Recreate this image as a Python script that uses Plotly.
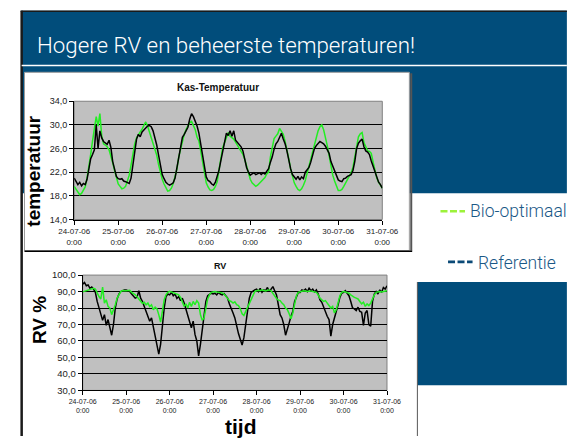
import plotly.graph_objects as go

# ---------------- data: hourly readings 24-07-2006 0:00 .. 31-07-2006 0:00 ----------------
hours = list(range(169))
day_ticks = [0, 24, 48, 72, 96, 120, 144, 168]
day_labels = ["24-07-06", "25-07-06", "26-07-06", "27-07-06",
              "28-07-06", "29-07-06", "30-07-06", "31-07-06"]
time_label = "0:00"

temp_ticks = [14, 18, 22, 26, 30, 34]
temp_tick_labels = ["14,0", "18,0", "22,0", "26,0", "30,0", "34,0"]
rv_ticks = [30, 40, 50, 60, 70, 80, 90, 100]
rv_tick_labels = ["30,0", "40,0", "50,0", "60,0", "70,0", "80,0", "90,0", "100,0"]

# greenhouse temperature (deg C), one row per day
temp_bio = [
    19.6, 19.2, 18.6, 18.2, 18.4, 18.9, 19.5, 21.0, 22.8, 25.0, 27.3, 29.0, 31.4, 29.8, 31.9, 28.2, 26.8, 26.6, 26.3, 25.8, 24.8, 23.6, 22.3, 21.2,
    20.0, 19.6, 19.2, 19.3, 19.6, 20.5, 21.5, 23.2, 25.0, 26.8, 27.8, 28.4, 28.8, 29.3, 29.8, 30.5, 29.8, 28.8, 28.1, 27.2, 26.2, 24.9, 23.3, 22.0,
    20.8, 20.0, 19.4, 18.8, 18.9, 19.3, 20.1, 21.3, 22.5, 24.6, 26.0, 27.4, 28.4, 29.2, 29.9, 30.4, 30.6, 29.9, 29.2, 27.9, 27.3, 25.6, 23.6, 21.8,
    20.2, 19.5, 19.0, 18.9, 19.1, 19.6, 20.4, 22.5, 24.8, 26.2, 27.0, 27.7, 28.7, 28.1, 27.9, 27.6, 27.1, 26.6, 26.2, 25.7, 25.0, 24.2, 23.0, 21.9,
    20.8, 20.2, 19.8, 19.6, 19.8, 20.1, 20.4, 20.7, 21.1, 21.7, 22.0, 24.6, 26.5, 27.7, 28.1, 28.5, 29.4, 29.0, 28.4, 27.2, 25.9, 24.3, 22.6, 21.2,
    20.2, 19.6, 19.1, 18.9, 19.2, 19.8, 20.6, 21.8, 23.0, 24.3, 25.5, 26.8, 28.0, 29.0, 29.7, 30.0, 29.2, 28.0, 26.5, 24.8, 23.1, 21.5, 20.5, 19.6,
    18.9, 18.9, 19.1, 19.6, 20.2, 20.8, 21.3, 21.9, 22.8, 24.6, 26.2, 28.0, 28.5, 28.7, 27.0, 26.2, 25.6, 25.5, 25.2, 23.7, 22.3, 21.0, 20.3, 19.8,
    19.3,
]
temp_ref = [
    21.0, 20.4, 19.9, 20.3, 19.7, 20.1, 19.9, 20.8, 22.6, 24.3, 25.0, 25.8, 30.0, 26.0, 29.0, 27.8, 27.2, 27.0, 26.7, 27.4, 26.2, 23.8, 22.3, 21.3,
    20.9, 20.8, 20.9, 20.5, 20.4, 20.2, 20.1, 21.0, 23.0, 25.5, 27.6, 28.4, 28.0, 28.8, 29.2, 29.4, 29.8, 29.9, 29.7, 29.0, 28.0, 26.6, 24.9, 23.2,
    21.6, 20.9, 20.3, 20.0, 19.8, 20.0, 20.2, 21.0, 22.6, 24.5, 26.4, 27.9, 28.4, 28.9, 29.6, 31.0, 31.9, 31.4, 30.6, 29.8, 28.6, 26.8, 24.6, 22.8,
    21.2, 20.6, 20.4, 20.0, 19.8, 20.3, 21.3, 22.4, 24.0, 25.4, 26.8, 28.6, 28.2, 29.0, 28.1, 29.0, 27.4, 27.0, 26.7, 26.3, 25.6, 24.1, 22.8, 22.0,
    21.5, 21.7, 21.9, 21.6, 21.8, 21.9, 21.6, 21.9, 21.7, 22.2, 22.6, 23.7, 24.6, 25.9, 26.8, 27.2, 27.8, 28.6, 27.6, 26.8, 25.6, 24.0, 22.6, 21.6,
    21.2, 20.8, 21.3, 20.7, 21.2, 20.9, 22.0, 22.5, 22.8, 23.7, 25.0, 26.0, 26.5, 26.8, 27.2, 27.0, 26.8, 26.4, 25.9, 25.2, 23.8, 23.0, 22.1, 21.3,
    20.7, 20.5, 20.4, 20.9, 21.0, 21.3, 21.5, 21.6, 22.3, 23.8, 26.0, 26.9, 27.3, 27.6, 26.3, 25.6, 25.4, 25.0, 23.9, 23.0, 22.0, 21.0, 20.3, 19.9,
    19.3,
]

# relative humidity (%), one row per day
rv_bio = [
    89.8, 90.2, 90.6, 91.0, 91.3, 91.6, 92.0, 91.5, 89.0, 87.0, 85.5, 92.7, 83.0, 85.0, 81.0, 80.0, 76.0, 78.5, 82.0, 86.0, 88.5, 90.0, 90.7, 90.5,
    90.5, 90.6, 90.7, 89.5, 88.8, 88.0, 86.8, 85.5, 84.0, 82.8, 83.5, 81.9, 83.0, 80.9, 82.0, 79.0, 80.5, 79.5, 76.0, 71.5, 78.0, 85.0, 88.0, 89.5,
    90.2, 89.7, 89.5, 89.0, 88.5, 88.0, 86.5, 84.0, 81.0, 82.5, 80.0, 83.5, 81.0, 84.0, 82.0, 84.5, 83.0, 76.0, 72.5, 74.0, 80.0, 85.5, 88.0, 89.5,
    89.8, 90.0, 89.7, 89.5, 89.0, 89.2, 88.5, 87.0, 85.8, 84.5, 84.0, 83.0, 83.8, 82.0, 81.5, 79.5, 76.5, 75.5, 78.0, 80.5, 83.5, 86.0, 88.5, 90.0,
    90.5, 90.8, 90.5, 91.0, 90.7, 90.4, 90.8, 91.0, 90.5, 89.0, 87.0, 85.8, 84.8, 84.5, 83.0, 82.0, 80.0, 79.0, 76.5, 73.5, 77.0, 83.0, 87.5, 89.5,
    90.0, 90.2, 90.5, 90.3, 90.0, 90.2, 90.4, 90.0, 89.8, 89.5, 88.0, 86.0, 85.0, 84.0, 84.5, 83.0, 82.0, 80.0, 81.0, 77.0, 79.0, 84.0, 87.5, 89.5,
    90.0, 89.8, 89.5, 89.0, 88.0, 87.0, 86.5, 86.0, 85.5, 84.0, 82.5, 83.5, 81.0, 82.5, 81.5, 83.0, 86.0, 88.0, 89.5, 89.8, 90.0, 89.7, 90.0, 90.3,
    90.5,
]
rv_ref = [
    94.5, 95.5, 93.5, 94.0, 92.0, 92.8, 91.5, 89.5, 84.0, 80.0, 76.5, 72.5, 76.0, 69.5, 73.0, 67.0, 63.5, 70.0, 80.0, 85.5, 88.5, 90.0, 90.5, 91.0,
    91.0, 90.5, 90.0, 88.5, 87.0, 86.0, 86.5, 90.5, 86.0, 84.0, 81.0, 78.0, 75.0, 72.0, 74.0, 68.0, 63.0, 57.0, 52.0, 58.0, 70.0, 80.0, 87.0, 88.5,
    88.0, 89.5, 87.5, 88.5, 85.8, 87.0, 84.5, 86.0, 83.0, 79.0, 75.0, 71.5, 68.0, 72.0, 64.0, 60.0, 51.0, 58.0, 66.0, 76.0, 84.0, 87.5, 88.5, 89.0,
    88.5, 89.0, 88.0, 89.5, 88.5, 88.0, 88.8, 87.0, 86.0, 82.5, 79.0, 77.0, 74.0, 68.0, 64.5, 61.0, 57.5, 62.0, 70.0, 79.0, 86.0, 89.5, 90.5, 91.0,
    91.5, 90.0, 92.0, 89.5, 91.0, 90.5, 92.5, 90.0, 91.5, 93.0, 90.5, 88.0, 82.0, 76.0, 74.0, 70.0, 63.5, 68.0, 71.0, 75.0, 78.0, 84.0, 87.0, 89.5,
    89.5, 91.0, 90.5, 91.5, 90.0, 92.0, 90.5, 91.5, 89.8, 91.0, 88.5, 85.0, 83.5, 80.5, 77.5, 75.0, 73.0, 63.0, 70.0, 73.5, 78.0, 82.0, 86.5, 89.0,
    89.5, 90.5, 89.0, 87.5, 84.0, 80.0, 79.5, 78.5, 80.5, 78.0, 77.5, 69.5, 77.0, 78.5, 70.0, 69.0, 84.0, 88.5, 90.0, 88.5, 91.0, 89.5, 92.5, 91.5,
    93.5,
]

series_names = ["Bio-optimaal", "Referentie"]

# ---------------- page geometry (pixels) ----------------
W, H = 582, 439
SLIDE_BLUE = "#014d7b"
TEXT_BLUE = "#1a5886"
GREEN = "#22ee22"
LEGEND_GREEN = "#9cf23a"
PLOT_GREY = "#c0c0c0"
ARIAL = "Liberation Sans, Arial, sans-serif"
SLIDE_FONT = "Roboto, sans-serif"


def fx(x):
    return x / W


def fy(y):
    return 1 - y / H


# plot areas: (left, top, right, bottom)
T_BOX = (61.7, 97.7, 388.3, 219.0)
R_BOX = (70.7, 276.0, 393.3, 394.3)

shapes = []


def rect(x0, y0, x1, y1, fill, line_color=None, line_width=0):
    shapes.append(dict(type="rect", xref="paper", yref="paper", layer="below",
                       x0=fx(x0), x1=fx(x1), y0=fy(y1), y1=fy(y0),
                       fillcolor=fill,
                       line=dict(color=line_color or fill, width=line_width)))


def hline(x0, x1, y, color, width, layer="below", dash=None):
    ln = dict(color=color, width=width)
    if dash:
        ln["dash"] = dash
    shapes.append(dict(type="line", xref="paper", yref="paper", layer=layer,
                       x0=fx(x0), x1=fx(x1), y0=fy(y), y1=fy(y), line=ln))


def vline(x, y0, y1, color, width):
    shapes.append(dict(type="line", xref="paper", yref="paper", layer="below",
                       x0=fx(x), x1=fx(x), y0=fy(y0), y1=fy(y1),
                       line=dict(color=color, width=width)))


# slide background blocks
rect(6, 5, W + 2, 192, SLIDE_BLUE)
rect(426, 283, W + 2, 389, SLIDE_BLUE)
hline(5, W + 2, 5.5, "#1a1a1a", 1.5)
vline(6, 5, H + 2, "#1a1a1a", 2.5)
hline(6, W + 2, 61, "#ffffff", 1.5)
vline(425, 283, H + 2, "#1a1a1a", 1.5)

# chart frames
rect(9, 68, 417, 251, "#ffffff", "#9a9a9a", 1)
vline(419, 69, 251, "#555555", 2)
hline(9, 420, 251.5, "#000000", 1.5)
rect(9, 252.5, 425, H + 2, "#ffffff")

# grey plot areas
rect(T_BOX[0], T_BOX[1], T_BOX[2], T_BOX[3], PLOT_GREY, "#808080", 1)
rect(R_BOX[0], R_BOX[1], R_BOX[2], R_BOX[3], PLOT_GREY, "#808080", 1)

# legend key dashes
hline(450, 476, 210.5, LEGEND_GREEN, 2.6, layer="above", dash="7px,2.5px")
hline(458, 484, 262.5, "#0b4a77", 2.6, layer="above", dash="7px,2.5px")

fig = go.Figure()

fig.add_trace(go.Scatter(x=hours, y=temp_bio, mode="lines", name=series_names[0],
                         line=dict(color=GREEN, width=1.5), xaxis="x", yaxis="y"))
fig.add_trace(go.Scatter(x=hours, y=temp_ref, mode="lines", name=series_names[1],
                         line=dict(color="#000000", width=1.5), xaxis="x", yaxis="y"))
fig.add_trace(go.Scatter(x=hours, y=rv_ref, mode="lines", name=series_names[1],
                         line=dict(color="#000000", width=1.5), xaxis="x2", yaxis="y2"))
fig.add_trace(go.Scatter(x=hours, y=rv_bio, mode="lines", name=series_names[0],
                         line=dict(color=GREEN, width=1.5), xaxis="x2", yaxis="y2"))

tick_text = [f"{d}<br>{time_label}" for d in day_labels]


def x_axis(box, anchor, size):
    return dict(domain=[fx(box[0]), fx(box[2])], range=[0, 168], anchor=anchor,
                tickmode="array", tickvals=day_ticks, ticktext=tick_text,
                ticks="outside", ticklen=4, tickcolor="#000000", tickwidth=1,
                showline=True, linecolor="#000000", linewidth=1,
                showgrid=False, zeroline=False, fixedrange=True,
                tickfont=dict(family=ARIAL, size=size, color="#222222"))


def y_axis(box, anchor, ticks, labels, rng, size):
    return dict(domain=[fy(box[3]), fy(box[1])], range=rng, anchor=anchor,
                tickmode="array", tickvals=ticks, ticktext=labels,
                ticks="outside", ticklen=4, tickcolor="#000000", tickwidth=1,
                showline=True, linecolor="#000000", linewidth=1,
                showgrid=True, gridcolor="#000000", gridwidth=1,
                zeroline=False, fixedrange=True,
                tickfont=dict(family=ARIAL, size=size, color="#222222"))


annotations = [
    dict(text="Hogere RV en beheerste temperaturen!", x=fx(223), y=fy(40.3),
         xanchor="center", yanchor="middle",
         font=dict(family=SLIDE_FONT, size=22.3, color="#ffffff", weight=300)),
    dict(text="<b>Kas-Temperatuur</b>", x=fx(214), y=fy(84),
         xanchor="center", yanchor="middle",
         font=dict(family=ARIAL, size=10, color="#111111")),
    dict(text="<b>temperatuur</b>", x=fx(19), y=fy(169), textangle=-90,
         xanchor="center", yanchor="middle",
         font=dict(family=ARIAL, size=19, color="#000000")),
    dict(text="<b>RV</b>", x=fx(216.5), y=fy(266.7),
         xanchor="center", yanchor="middle",
         font=dict(family=ARIAL, size=9, color="#111111")),
    dict(text="<b>RV %</b>", x=fx(24.8), y=fy(321.7), textangle=-90,
         xanchor="center", yanchor="middle",
         font=dict(family=ARIAL, size=19, color="#000000")),
    dict(text="<b>tijd</b>", x=fx(239), y=fy(431), xanchor="center", yanchor="middle",
         font=dict(family=ARIAL, size=21, color="#000000")),
    dict(text=series_names[0], x=fx(533), y=fy(210.7), xanchor="center", yanchor="middle",
         font=dict(family=SLIDE_FONT, size=17.5, color=TEXT_BLUE, weight=300)),
    dict(text=series_names[1], x=fx(531), y=fy(263.7), xanchor="center", yanchor="middle",
         font=dict(family=SLIDE_FONT, size=17.5, color=TEXT_BLUE, weight=300)),
]
for a in annotations:
    a.update(xref="paper", yref="paper", showarrow=False)

fig.update_layout(
    width=W, height=H, autosize=False,
    margin=dict(l=0, r=0, t=0, b=0, pad=0),
    paper_bgcolor="#ffffff", plot_bgcolor="rgba(0,0,0,0)",
    showlegend=False,
    xaxis=x_axis(T_BOX, "y", 8),
    yaxis=y_axis(T_BOX, "x", temp_ticks, temp_tick_labels, [14, 34], 9),
    xaxis2=x_axis(R_BOX, "y2", 7),
    yaxis2=y_axis(R_BOX, "x2", rv_ticks, rv_tick_labels, [30, 100], 9.5),
    shapes=shapes,
    annotations=annotations,
)

fig.write_html("out.html", config={"displayModeBar": False})
